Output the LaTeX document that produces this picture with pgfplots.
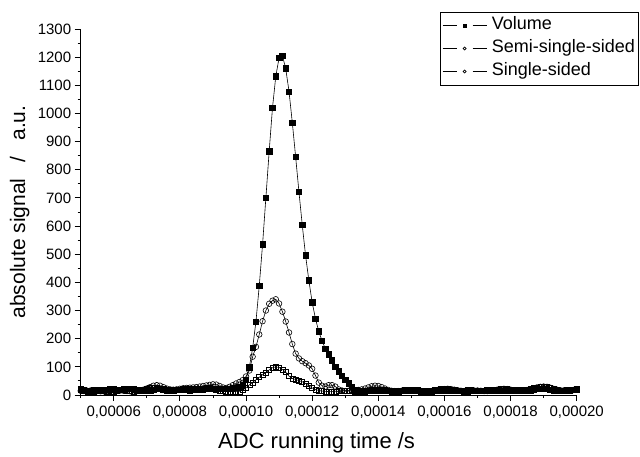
\documentclass[border=0pt]{standalone}
\usepackage{fontspec}
\setmainfont{Liberation Sans}
\usepackage{pgfplots}
\usepackage{pgfplotstable}
\pgfplotsset{compat=1.18}

% legend: dash, mark, dash
\pgfplotsset{
  dashlegend/.style={legend image code/.code={
      \draw[##1] (0pt,0pt) -- (14pt,0pt);
      \draw[##1] (30pt,0pt) -- (44pt,0pt);
      \draw[##1, only marks, mark size=1.5pt, #1] plot coordinates {(22pt,0pt)};
  }},
}

% x in s, signals in a.u.
\pgfplotstableread{
x        vol  semi single
0.000050 18 15 21
0.000051 15 14 17
0.000052 14 15 13
0.000053 15 16 12
0.000054 16 15 13
0.000055 17 14 15
0.000056 18 13 16
0.000057 19 13 15
0.000058 19 14 13
0.000059 20 15 12
0.000060 20 16 13
0.000061 19 17 15
0.000062 19 16 17
0.000063 20 15 18
0.000064 21 14 16
0.000065 21 13 14
0.000066 20 13 13
0.000067 18 14 15
0.000068 16 16 17
0.000069 15 19 20
0.000070 15 23 23
0.000071 17 28 25
0.000072 19 33 27
0.000073 21 35 26
0.000074 22 33 23
0.000075 20 28 19
0.000076 18 23 16
0.000077 17 20 15
0.000078 17 19 16
0.000079 18 20 18
0.000080 19 22 19
0.000081 20 24 18
0.000082 21 25 17
0.000083 21 26 16
0.000084 20 27 17
0.000085 19 28 19
0.000086 19 30 21
0.000087 20 32 23
0.000088 21 34 25
0.000089 22 36 24
0.000090 23 38 22
0.000091 23 37 19
0.000092 22 32 16
0.000093 21 27 14
0.000094 21 25 13
0.000095 22 29 13
0.000096 24 35 12
0.000097 25 41 12
0.000098 28 46 13
0.000099 35 53 17
0.000100 55 66 26
0.000101 99 87 36
0.000102 167 136 45
0.000103 261 171 54
0.000104 388 215 63
0.000105 535 262 72
0.000106 700 300 80
0.000107 866 324 89
0.000108 1020 335 97
0.000109 1132 340 100
0.000110 1198 325 98
0.000111 1205 296 91
0.000112 1160 261 81
0.000113 1078 222 67
0.000114 967 181 59
0.000115 846 147 55
0.000116 722 130 51
0.000117 604 120 47
0.000118 496 113 41
0.000119 407 105 32
0.000120 329 93 25
0.000121 271 69 20
0.000122 226 44 16
0.000123 192 33 14
0.000124 164 30 13
0.000125 144 35 12
0.000126 123 35 12
0.000127 101 30 13
0.000128 84 20 14
0.000129 69 16 15
0.000130 53 14 15
0.000131 42 15 15
0.000132 30 16 14
0.000133 18 17 13
0.000134 14 18 13
0.000135 13 20 14
0.000136 13 23 15
0.000137 14 27 16
0.000138 15 31 17
0.000139 16 33 18
0.000140 17 32 17
0.000141 17 28 16
0.000142 16 23 15
0.000143 15 18 14
0.000144 14 15 13
0.000145 13 14 13
0.000146 13 14 14
0.000147 14 15 16
0.000148 15 16 18
0.000149 16 17 19
0.000150 17 17 18
0.000151 17 16 16
0.000152 16 15 14
0.000153 15 14 13
0.000154 14 13 13
0.000155 13 13 14
0.000156 13 14 15
0.000157 14 16 17
0.000158 15 18 19
0.000159 16 20 21
0.000160 17 21 22
0.000161 17 22 21
0.000162 16 21 19
0.000163 15 19 17
0.000164 14 17 15
0.000165 14 15 14
0.000166 15 14 13
0.000167 16 14 13
0.000168 16 15 14
0.000169 15 16 15
0.000170 14 16 16
0.000171 14 15 16
0.000172 15 14 15
0.000173 16 14 14
0.000174 17 15 15
0.000175 17 17 17
0.000176 16 19 19
0.000177 15 21 21
0.000178 15 22 22
0.000179 16 21 21
0.000180 17 19 19
0.000181 18 17 17
0.000182 18 15 16
0.000183 17 15 16
0.000184 16 16 17
0.000185 16 18 19
0.000186 17 21 21
0.000187 19 24 24
0.000188 21 27 27
0.000189 22 29 29
0.000190 22 30 30
0.000191 21 29 28
0.000192 19 26 25
0.000193 17 22 21
0.000194 16 19 18
0.000195 15 17 16
0.000196 15 16 15
0.000197 16 16 15
0.000198 17 17 16
0.000199 19 18 17
0.000200 21 19 18
}\adcdata

\begin{document}
\begin{tikzpicture}
\useasboundingbox (-80.7pt,-61pt) rectangle (559.3pt,395pt);
\begin{axis}[
    at={(0pt,0pt)}, anchor=south west,
    scale only axis, width=496pt, height=366pt,
    xmin=0.00005, xmax=0.0002, ymin=0, ymax=1300,
    clip=false,
    axis lines*=left,
    axis line style={line width=0.9pt},
    tick align=outside,
    major tick length=6pt, minor tick length=3pt,
    every tick/.style={black, line width=0.9pt},
    xtick={0.00006,0.00008,0.0001,0.00012,0.00014,0.00016,0.00018,0.0002},
    xticklabels={{0,00006},{0,00008},{0,00010},{0,00012},{0,00014},{0,00016},{0,00018},{0,00020}},
    minor xtick={0.00005,0.00007,0.00009,0.00011,0.00013,0.00015,0.00017,0.00019},
    scaled x ticks=false,
    ytick={0,100,...,1300},
    minor ytick={50,150,...,1250},
    /pgf/number format/assume math mode=true,
    /pgf/number format/1000 sep={},
    tick label style={font=\fontsize{15}{15}\selectfont},
    xticklabel style={yshift=-1pt},
    xlabel={ADC running time /s},
    ylabel={absolute signal\hspace{16pt}/\hspace{16pt}a.u.},
    every axis x label/.style={at={(rel axis cs:0.4756,0)}, yshift=-48pt, anchor=center,
        font=\fontsize{22}{22}\selectfont},
    every axis y label/.style={at={(rel axis cs:0,0.5)}, xshift=-61pt, anchor=center, rotate=90,
        font=\fontsize{21}{21}\selectfont},
    legend cell align=left,
    legend style={at={(rel axis cs:0.7244,1.0473)}, anchor=north west,
        draw=black, line width=0.6pt, fill=white,
        font=\fontsize{18}{18}\selectfont,
        inner xsep=2pt, inner ysep=4pt, row sep=4pt, column sep=4pt,
        nodes={inner sep=1pt, text height=13pt, text depth=4pt}},
    dashlegend={},
]
\addplot[black, line width=0.6pt, mark=square*, mark size=2.7pt]
    table[x=x, y=vol] {\adcdata};
\addlegendentry{Volume}
\addplot[black, line width=0.6pt, mark=o, mark size=2.8pt, mark options={fill=white}]
    table[x=x, y=semi] {\adcdata};
\addlegendentry{Semi-single-sided}
\addplot[black, line width=0.6pt, mark=square, mark size=2.5pt, mark options={fill=white},
    dashlegend={mark=o}]
    table[x=x, y=single] {\adcdata};
\addlegendentry{Single-sided}
\end{axis}
\end{tikzpicture}
\end{document}
